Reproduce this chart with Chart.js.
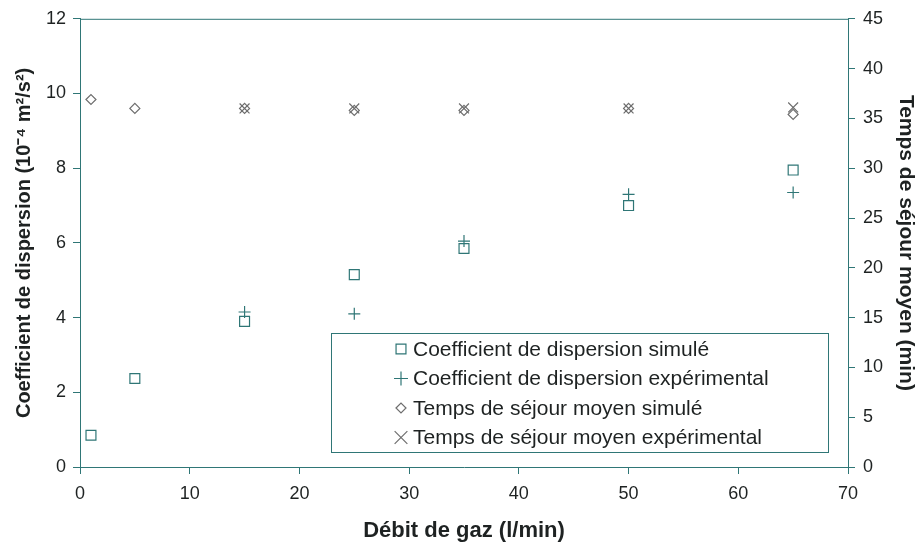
<!DOCTYPE html>
<html lang="fr">
<head>
<meta charset="UTF-8">
<title>Coefficient de dispersion et temps de séjour</title>
<script src="https://cdn.jsdelivr.net/npm/chart.js"></script>
<style>
  html, body { margin: 0; padding: 0; background: #fff; }
  #wrap { width: 918px; height: 549px; }
</style>
</head>
<body>
<div id="wrap"><canvas id="chart" width="918" height="549"></canvas></div>
<script>
// Data
const debit = [1, 5, 15, 25, 35, 50, 65];
const dispSimule = [0.85, 2.37, 3.9, 5.15, 5.85, 7.0, 7.95];
const debitExp = [15, 25, 35, 50, 65];
const dispExp = [4.15, 4.1, 6.05, 7.3, 7.35];
const tempsSimule = [36.9, 36.0, 36.0, 35.8, 35.8, 36.0, 35.4];
const tempsExp = [36.0, 36.0, 36.0, 36.0, 36.1];

const xTicks = { min: 0, max: 70, step: 10 };
const yTicks = { min: 0, max: 12, step: 2 };
const y2Ticks = { min: 0, max: 45, step: 5 };

const teal = '#2f7676';
const grey = '#6e6e6e';
const textColor = '#1e2222';
const fontFamily = '"Liberation Sans", Arial, sans-serif';

function pts(xs, ys) {
  return xs.map((x, i) => ({ x: x, y: ys[i] }));
}

// Boxed legend drawn inside the plot area (bottom right)
const boxLegend = {
  id: 'boxLegend',
  afterDraw(chart) {
    const ctx = chart.ctx;
    const area = chart.chartArea;
    ctx.save();
    // top frame line of the plot area
    ctx.strokeStyle = teal;
    ctx.lineWidth = 1;
    ctx.beginPath();
    ctx.moveTo(area.left, area.top + 0.5);
    ctx.lineTo(area.right, area.top + 0.5);
    ctx.stroke();

    const left = area.left + 251, top = area.bottom - 134;
    const w = 497, h = 119;
    ctx.strokeRect(left + 0.5, top + 0.5, w, h);

    ctx.font = '21px ' + fontFamily;
    ctx.textBaseline = 'middle';
    chart.data.datasets.forEach((ds, i) => {
      const cy = top + 16 + i * 29.5;
      ctx.strokeStyle = ds.borderColor;
      ctx.fillStyle = 'rgba(0,0,0,0)';
      ctx.lineWidth = 1.2;
      Chart.helpers.drawPoint(ctx, {
        pointStyle: ds.pointStyle,
        radius: ds.legendRadius,
        borderWidth: 1.2
      }, left + 70, cy);
      ctx.fillStyle = textColor;
      ctx.fillText(ds.label, left + 82, cy + 1);
    });
    ctx.restore();
  }
};

const axisCommon = {
  border: { display: true, color: teal, width: 1 },
  grid: { display: true, drawOnChartArea: false, drawTicks: true, tickLength: 7, color: teal },
  ticks: { color: textColor, font: { family: fontFamily, size: 18 } },
  title: { display: true, color: textColor, font: { family: fontFamily, size: 21, weight: 'bold' } }
};

new Chart(document.getElementById('chart'), {
  type: 'scatter',
  data: {
    datasets: [
      {
        label: 'Coefficient de dispersion simulé',
        data: pts(debit, dispSimule),
        yAxisID: 'y',
        pointStyle: 'rect',
        pointRadius: 7,
        legendRadius: 7,
        borderColor: teal,
        backgroundColor: 'rgba(0,0,0,0)',
        borderWidth: 1.2
      },
      {
        label: 'Coefficient de dispersion expérimental',
        data: pts(debitExp, dispExp),
        yAxisID: 'y',
        pointStyle: 'cross',
        pointRadius: 6,
        legendRadius: 7,
        borderColor: teal,
        backgroundColor: 'rgba(0,0,0,0)',
        borderWidth: 1.2
      },
      {
        label: 'Temps de séjour moyen simulé',
        data: pts(debit, tempsSimule),
        yAxisID: 'y2',
        pointStyle: 'rectRot',
        pointRadius: 5,
        legendRadius: 5,
        borderColor: grey,
        backgroundColor: 'rgba(0,0,0,0)',
        borderWidth: 1.2
      },
      {
        label: 'Temps de séjour moyen expérimental',
        data: pts(debitExp, tempsExp),
        yAxisID: 'y2',
        pointStyle: 'crossRot',
        pointRadius: 7,
        legendRadius: 9,
        borderColor: grey,
        backgroundColor: 'rgba(0,0,0,0)',
        borderWidth: 1.2
      }
    ]
  },
  options: {
    responsive: false,
    animation: false,
    layout: { padding: { top: 17, left: 0, right: 0, bottom: 0 } },
    plugins: {
      legend: { display: false },
      tooltip: { enabled: false }
    },
    scales: {
      x: {
        ...axisCommon,
        type: 'linear',
        position: 'bottom',
        min: xTicks.min,
        max: xTicks.max,
        ticks: { ...axisCommon.ticks, stepSize: xTicks.step, padding: 9 },
        title: { ...axisCommon.title, text: 'Débit de gaz (l/min)', font: { family: fontFamily, size: 22, weight: 'bold' }, padding: { top: 0, bottom: 5 } },
        afterFit(scale) { scale.height = 82; }
      },
      y: {
        ...axisCommon,
        type: 'linear',
        position: 'left',
        min: yTicks.min,
        max: yTicks.max,
        ticks: { ...axisCommon.ticks, stepSize: yTicks.step, padding: 7 },
        title: { ...axisCommon.title, text: 'Coefficient de dispersion (10⁻⁴ m²/s²)', font: { family: fontFamily, size: 20, weight: 'bold' }, padding: { top: 12, bottom: 0 } },
        afterFit(scale) { scale.width = 80; }
      },
      y2: {
        ...axisCommon,
        type: 'linear',
        position: 'right',
        min: y2Ticks.min,
        max: y2Ticks.max,
        ticks: { ...axisCommon.ticks, stepSize: y2Ticks.step, padding: 8 },
        title: { ...axisCommon.title, text: 'Temps de séjour moyen (min)', padding: { top: 0, bottom: 0 } },
        afterFit(scale) { scale.width = 70; }
      }
    }
  },
  plugins: [boxLegend]
});
</script>
</body>
</html>
